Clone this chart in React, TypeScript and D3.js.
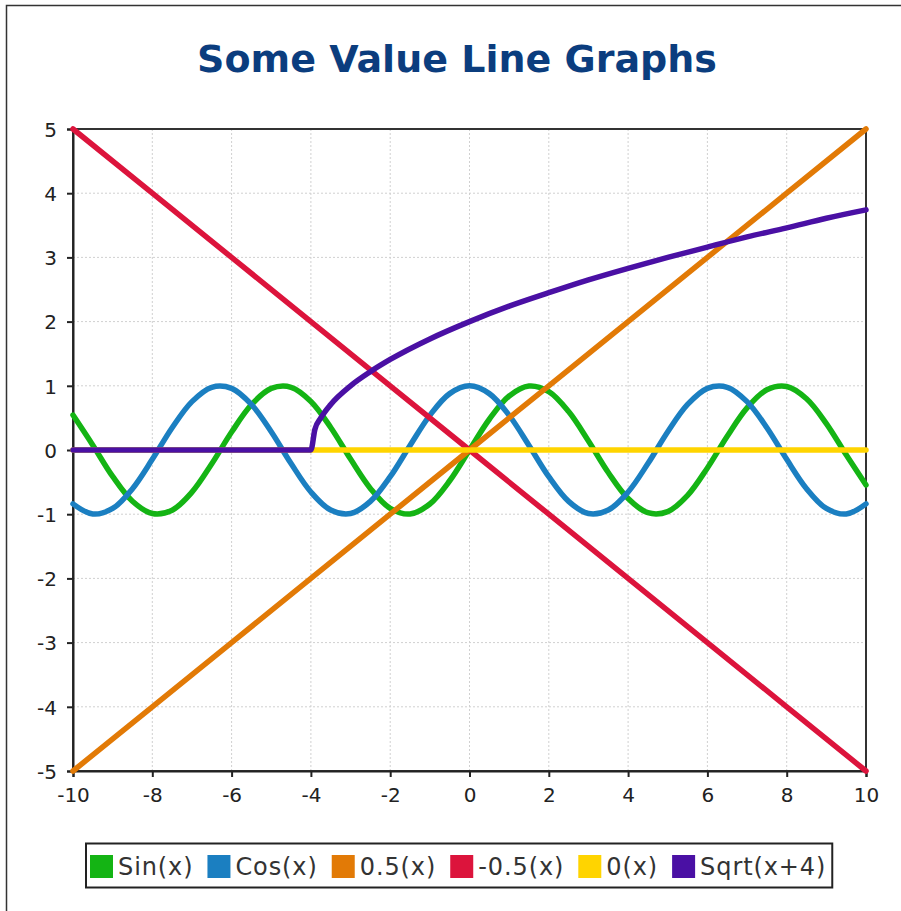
import React, { useEffect, useRef } from "react";
import * as d3 from "d3";

const chartTitle = "Some Value Line Graphs";

const xTicks = [-10, -8, -6, -4, -2, 0, 2, 4, 6, 8, 10];
const yTicks = [-5, -4, -3, -2, -1, 0, 1, 2, 3, 4, 5];

const waveX = [
  -10, -9.5, -9, -8.5, -8, -7.5, -7, -6.5, -6, -5.5, -5, -4.5, -4, -3.5, -3, -2.5, -2, -1.5, -1, -0.5,
  0, 0.5, 1, 1.5, 2, 2.5, 3, 3.5, 4, 4.5, 5, 5.5, 6, 6.5, 7, 7.5, 8, 8.5, 9, 9.5, 10,
];
const sinValues = [
  0.544, 0.075, -0.412, -0.798, -0.989, -0.938, -0.657, -0.215, 0.279, 0.706, 0.959, 0.977, 0.757, 0.351,
  -0.141, -0.598, -0.909, -0.997, -0.841, -0.479, 0, 0.479, 0.841, 0.997, 0.909, 0.598, 0.141, -0.351,
  -0.757, -0.977, -0.959, -0.706, -0.279, 0.215, 0.657, 0.938, 0.989, 0.798, 0.412, -0.075, -0.544,
];
const cosValues = [
  -0.839, -0.997, -0.911, -0.602, -0.146, 0.347, 0.754, 0.977, 0.96, 0.709, 0.284, -0.211, -0.654, -0.936,
  -0.99, -0.801, -0.416, 0.071, 0.54, 0.878, 1, 0.878, 0.54, 0.071, -0.416, -0.801, -0.99, -0.936, -0.654,
  -0.211, 0.284, 0.709, 0.96, 0.977, 0.754, 0.347, -0.146, -0.602, -0.911, -0.997, -0.839,
];

const lineX = [-10, -8, -6, -4, -2, 0, 2, 4, 6, 8, 10];
const halfValues = [-5, -4, -3, -2, -1, 0, 1, 2, 3, 4, 5];
const negHalfValues = [5, 4, 3, 2, 1, 0, -1, -2, -3, -4, -5];
const zeroValues = [0, 0, 0, 0, 0, 0, 0, 0, 0, 0, 0];

const sqrtX = [-10, -8, -6, -4, -3.9, -3.75, -3.5, -3, -2.5, -2, -1, 0, 1, 2, 3, 4, 5, 6, 7, 8, 9, 10];
const sqrtValues = [0, 0, 0, 0, 0.32, 0.5, 0.71, 1, 1.22, 1.41, 1.73, 2, 2.24, 2.45, 2.65, 2.83, 3, 3.16, 3.32, 3.46, 3.61, 3.74];

const seriesNames = ["Sin(x)", "Cos(x)", "0.5(x)", "-0.5(x)", "0(x)", "Sqrt(x+4)"];
const seriesColors = ["#14b414", "#1b7fc1", "#e27a06", "#dc143c", "#ffd400", "#4a10a4"];

const W = 901;
const H = 911;
const M = { left: 73, right: 866, top: 129, bottom: 771 };

export default function App() {
  const ref = useRef<SVGSVGElement>(null);

  useEffect(() => {
    const svg = d3.select(ref.current);
    svg.selectAll("*").remove();

    const x = d3.scaleLinear().domain([-10, 10]).range([M.left, M.right]);
    const y = d3.scaleLinear().domain([-5, 5]).range([M.bottom, M.top]);

    svg.append("rect").attr("x", 0).attr("y", 0).attr("width", W).attr("height", H).attr("fill", "#fff");
    // outer frame
    svg
      .append("rect")
      .attr("x", 6.5)
      .attr("y", 5.5)
      .attr("width", 1000)
      .attr("height", 1000)
      .attr("fill", "none")
      .attr("stroke", "#333")
      .attr("stroke-width", 1.5);

    svg
      .append("text")
      .attr("x", 457)
      .attr("y", 72)
      .attr("text-anchor", "middle")
      .attr("font-family", "'DejaVu Sans', sans-serif")
      .attr("font-weight", "bold")
      .attr("font-size", 38)
      .attr("fill", "#0b3d7e")
      .text(chartTitle);

    // grid
    const grid = svg.append("g").attr("stroke", "#d0d0d0").attr("stroke-width", 1).attr("stroke-dasharray", "2,2");
    xTicks.forEach((t) => {
      grid.append("line").attr("x1", x(t)).attr("x2", x(t)).attr("y1", M.top).attr("y2", M.bottom);
    });
    yTicks.forEach((t) => {
      grid.append("line").attr("x1", M.left).attr("x2", M.right).attr("y1", y(t)).attr("y2", y(t));
    });

    // plot border
    svg
      .append("rect")
      .attr("x", M.left)
      .attr("y", M.top)
      .attr("width", M.right - M.left)
      .attr("height", M.bottom - M.top)
      .attr("fill", "none")
      .attr("stroke", "#333")
      .attr("stroke-width", 2);

    // axes
    const xAxis = d3
      .axisBottom(x)
      .tickValues(xTicks)
      .tickSize(6)
      .tickPadding(11)
      .tickFormat((d) => String(d));
    const gx = svg.append("g").attr("transform", `translate(0,${M.bottom})`).call(xAxis);
    const yAxis = d3
      .axisLeft(y)
      .tickValues(yTicks)
      .tickSize(6)
      .tickPadding(10)
      .tickFormat((d) => String(d));
    const gy = svg.append("g").attr("transform", `translate(${M.left},0)`).call(yAxis);
    [gx, gy].forEach((g) => {
      g.select(".domain").attr("stroke", "#222").attr("stroke-width", 2);
      g.selectAll(".tick line").attr("stroke", "#222").attr("stroke-width", 2);
      g.selectAll(".tick text")
        .attr("font-family", "'DejaVu Sans', sans-serif")
        .attr("font-size", 20)
        .attr("fill", "#222");
    });
    gy.selectAll(".tick text").attr("dy", "0.36em");

    const defs = svg.append("defs");
    defs
      .append("clipPath")
      .attr("id", "plotclip")
      .append("rect")
      .attr("x", M.left - 3)
      .attr("y", M.top - 3)
      .attr("width", M.right - M.left + 6)
      .attr("height", M.bottom - M.top + 6);

    const series = [
      { xs: waveX, ys: sinValues, curve: d3.curveCatmullRom },
      { xs: waveX, ys: cosValues, curve: d3.curveCatmullRom },
      { xs: lineX, ys: halfValues, curve: d3.curveLinear },
      { xs: lineX, ys: negHalfValues, curve: d3.curveLinear },
      { xs: lineX, ys: zeroValues, curve: d3.curveLinear },
      { xs: sqrtX, ys: sqrtValues, curve: d3.curveMonotoneX },
    ];

    const lines = svg.append("g").attr("clip-path", "url(#plotclip)");
    series.forEach((s, i) => {
      const pts = s.xs.map((xv, j) => [xv, s.ys[j]] as [number, number]);
      const gen = d3
        .line<[number, number]>()
        .x((d) => x(d[0]))
        .y((d) => y(d[1]))
        .curve(s.curve);
      lines
        .append("path")
        .attr("d", gen(pts))
        .attr("fill", "none")
        .attr("stroke", seriesColors[i])
        .attr("stroke-width", 5.5)
        .attr("stroke-linejoin", "round")
        .attr("stroke-linecap", "round");
    });

    // legend
    const lg = svg.append("g");
    const sw = 23;
    let cx = 0;
    const items: { sx: number; tx: number }[] = [];
    const texts: d3.Selection<SVGTextElement, unknown, null, undefined>[] = [];
    seriesNames.forEach((name, i) => {
      const t = lg
        .append("text")
        .attr("font-family", "'DejaVu Sans', sans-serif")
        .attr("font-size", 24)
        .attr("letter-spacing", 0.9)
        .attr("fill", "#333")
        .attr("y", 875)
        .text(name);
      const w = (t.node() as SVGTextElement).getComputedTextLength();
      items.push({ sx: cx, tx: cx + sw + 5 });
      texts.push(t);
      cx += sw + 5 + w + (i < seriesNames.length - 1 ? 14 : 0);
    });
    const total = cx;
    const startX = 90;
    lg.insert("rect", ":first-child")
      .attr("x", startX - 4)
      .attr("y", 843.5)
      .attr("width", Math.min(total + 10, 747))
      .attr("height", 44)
      .attr("fill", "#fff")
      .attr("stroke", "#222")
      .attr("stroke-width", 2);
    items.forEach((it, i) => {
      lg.append("rect")
        .attr("x", startX + it.sx)
        .attr("y", 855)
        .attr("width", sw)
        .attr("height", sw)
        .attr("fill", seriesColors[i]);
      texts[i].attr("x", startX + it.tx);
    });
  }, []);

  return (
    <svg
      ref={ref}
      width={W}
      height={H}
      style={{ position: "absolute", left: 0, top: 0, display: "block" }}
    />
  );
}
